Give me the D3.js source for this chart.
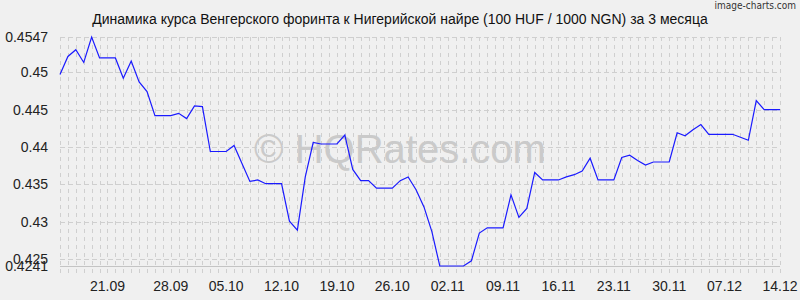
<!doctype html>
<html lang="ru">
<head>
<meta charset="utf-8">
<script src="https://d3js.org/d3.v7.min.js"></script>
<style>
  body { margin: 0; background: #f0f0f0; }
  svg { display: block; font-family: "Liberation Sans", Arial, sans-serif; }
</style>
</head>
<body>
<script>
  // daily rates 14.09 .. 14.12
  var values = [
    0.4497, 0.4521, 0.4530, 0.4513, 0.4547, 0.4519, 0.4519, 0.4519, 0.4492, 0.4515,
    0.4487, 0.4474, 0.4442, 0.4442, 0.4442, 0.4445, 0.4438, 0.4455, 0.4454, 0.4394,
    0.4394, 0.4394, 0.4402, 0.4378, 0.4354, 0.4356, 0.4351, 0.4351, 0.4351, 0.4301,
    0.4289, 0.4360, 0.4406, 0.4404, 0.4404, 0.4404, 0.4416, 0.4370, 0.4355, 0.4355,
    0.4345, 0.4345, 0.4345, 0.4355, 0.4360, 0.4343, 0.4320, 0.4287, 0.4241, 0.4241,
    0.4241, 0.4241, 0.4248, 0.4285, 0.4292, 0.4292, 0.4292, 0.4336, 0.4306, 0.4318,
    0.4366, 0.4356, 0.4356, 0.4356, 0.4360, 0.4363, 0.4368, 0.4385, 0.4356, 0.4356,
    0.4356, 0.4386, 0.4389, 0.4382, 0.4376, 0.4380, 0.4380, 0.4380, 0.4419, 0.4415,
    0.4423, 0.4430, 0.4417, 0.4417, 0.4417, 0.4417, 0.4413, 0.4409, 0.4462, 0.4450,
    0.4450, 0.4450
  ];
  var xTickLabels = ["21.09", "28.09", "05.10", "12.10", "19.10", "26.10", "02.11",
                     "09.11", "16.11", "23.11", "30.11", "07.12", "14.12"];
  var xTickIndex = [6, 14, 21, 28, 35, 42, 49, 56, 63, 70, 77, 84, 91];
  var yTicks = [0.4241, 0.425, 0.43, 0.435, 0.44, 0.445, 0.45, 0.4547];
  var yMin = 0.4241, yMax = 0.4547;

  var title = "Динамика курса Венгерского форинта к Нигерийской найре (100 HUF / 1000 NGN) за 3 месяца";

  var W = 800, H = 300;
  var padL = 60, padR = 780, padT = 37, padB = 266;

  var x = d3.scaleLinear().domain([0, values.length - 1]).range([padL, padR]);
  var y = d3.scaleLinear().domain([yMin, yMax]).range([padB, padT]);

  var svg = d3.select("body").append("svg")
    .attr("width", W)
    .attr("height", H);

  svg.append("rect").attr("width", W).attr("height", H).attr("fill", "#f0f0f0");

  // vertical grid, one per day
  svg.append("g").selectAll("line")
    .data(d3.range(values.length))
    .join("line")
      .attr("x1", function(d){ return Math.round(x(d)) + 0.5; })
      .attr("x2", function(d){ return Math.round(x(d)) + 0.5; })
      .attr("y1", padT)
      .attr("y2", padB + 10)
      .attr("stroke", "#cfcfcf")
      .attr("stroke-width", 1)
      .attr("stroke-dasharray", "4,4");

  // horizontal grid
  svg.append("g").selectAll("line")
    .data(yTicks)
    .join("line")
      .attr("x1", padL)
      .attr("x2", padR)
      .attr("y1", function(d){ return Math.round(y(d)) + 0.5; })
      .attr("y2", function(d){ return Math.round(y(d)) + 0.5; })
      .attr("stroke", function(d){ return d == yMin ? "#c4c4c4" : "#cfcfcf"; })
      .attr("stroke-dasharray", function(d){ return d == yMin ? null : "5,3"; });

  // watermark
  svg.append("text")
    .attr("x", 400)
    .attr("y", 163)
    .attr("text-anchor", "middle")
    .attr("font-size", 40)
    .attr("fill", "#cacaca")
    .text("© HQRates.com");

  // y labels
  svg.append("g").selectAll("text")
    .data(yTicks)
    .join("text")
      .attr("x", 48)
      .attr("y", function(d){ return y(d) + 5; })
      .attr("text-anchor", "end")
      .attr("font-size", 14)
      .attr("fill", "#222")
      .text(function(d){ return d; });

  // x labels
  svg.append("g").selectAll("text")
    .data(xTickIndex)
    .join("text")
      .attr("x", function(d){ return x(d); })
      .attr("y", 291)
      .attr("text-anchor", "middle")
      .attr("font-size", 14)
      .attr("fill", "#222")
      .text(function(d, i){ return xTickLabels[i]; });

  var line = d3.line()
    .x(function(d, i){ return x(i); })
    .y(function(d){ return y(d); });

  svg.append("path")
    .datum(values)
    .attr("d", line)
    .attr("fill", "none")
    .attr("stroke", "#1a1aff")
    .attr("stroke-width", 1.2);

  svg.append("text")
    .attr("x", 400)
    .attr("y", 24)
    .attr("text-anchor", "middle")
    .attr("font-size", 14)
    .attr("fill", "#111")
    .text(title);

  svg.append("text")
    .attr("x", 796)
    .attr("y", 9)
    .attr("text-anchor", "end")
    .attr("font-size", 10)
    .attr("font-family", "'Liberation Sans Narrow', 'DejaVu Sans Condensed', sans-serif")
    .attr("fill", "#333")
    .text("image-charts.com");
</script>
</body>
</html>
